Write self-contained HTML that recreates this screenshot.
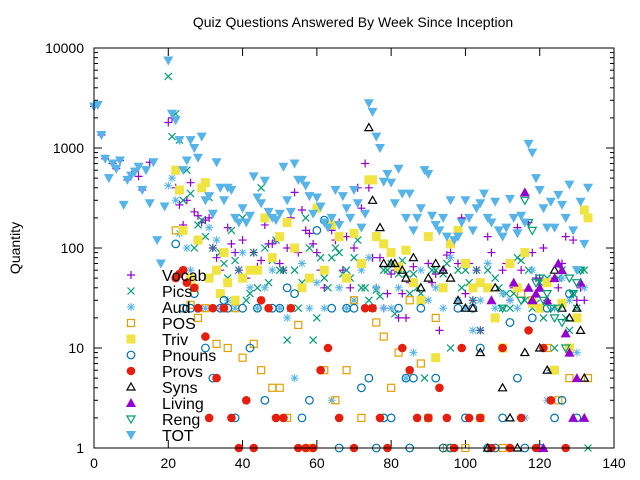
<!DOCTYPE html>
<html><head><meta charset="utf-8"><style>
body{margin:0;background:#fff}
svg{display:block;font-family:"Liberation Sans",sans-serif}
</style></head><body>
<svg id="c" width="640" height="480">
<text x="353" y="27" font-size="14" text-anchor="middle">Quiz Questions Answered By Week Since Inception</text>
<text x="20" y="248" font-size="14" text-anchor="middle" transform="rotate(-90 20 248)">Quantity</text>
<g id="axes"></g>
<g id="marks"></g>
<g id="legend"></g>
<rect x="94" y="48" width="520" height="400" fill="none" stroke="#000" stroke-width="1"/>
</svg>
<script>
const xTicks=[0,20,40,60,80,100,120,140];
const yTicks=[1,10,100,1000,10000];
const seriesNames=["Vocab","Pics","Aud","POS","Triv","Pnouns","Provs","Syns","Living","Reng","TOT"];
const totX=[0,1,2,3,4,5,6,7,8,9,10,11,12,13,14,15,16,17,18,19,20,21,22,23,24,25,26,27,28,29,30,31,32,33,34,35,36,37,38,39,40,41,42,43,44,45,46,47,48,49,50,51,52,53,54,55,56,57,58,59,60,61,62,63,64,65,66,67,68,69,70,71,72,73,74,75,76,77,78,79,80,81,82,83,84,85,86,87,88,89,90,91,92,93,94,95,96,97,98,99,100,101,102,103,104,105,106,107,108,109,110,111,112,113,114,115,116,117,118,119,120,121,122,123,124,125,126,127,128,129,130,131,132,133];
const totY=[2600,2700,1350,780,500,700,620,750,270,480,530,580,650,380,600,280,720,120,70,260,7500,2200,1900,1200,600,750,1200,1000,800,1300,300,330,220,720,400,300,400,380,200,180,250,180,210,520,320,280,470,230,200,190,220,650,300,230,700,480,480,420,330,220,320,260,180,160,200,380,170,330,250,200,380,280,160,220,2800,2300,1300,1000,460,550,450,280,620,350,200,350,150,200,250,600,550,210,170,150,200,130,300,120,130,180,300,200,150,250,280,350,200,180,290,150,130,160,310,200,140,210,180,1100,900,500,380,250,160,290,160,340,270,200,430,150,60,290,110,400];
const vocabX=[0,2,3,5,6,7,9,11,12,13,15,20,21,22,23,24,25,26,27,28,29,30,31,32,33,34,36,37,38,39,40,41,43,44,45,46,47,48,49,50,51,52,53,54,55,56,57,58,59,60,61,62,64,65,66,67,68,69,70,71,72,73,74,75,76,77,78,79,80,81,82,83,84,85,86,89,90,91,92,93,94,95,96,98,99,100,101,102,103,104,106,107,110,111,112,113,114,115,117,118,119,120,121,122,123,124,125,126,127,128,129,130,131,132];
const vocabY=[2600,1350,780,700,620,750,480,580,520,380,720,1800,2000,400,270,170,300,450,230,210,180,190,200,100,80,60,160,110,90,60,120,50,90,65,75,170,110,110,120,70,60,100,200,360,90,240,150,140,110,90,60,40,150,120,180,60,130,40,100,400,250,700,400,80,40,80,25,35,55,60,20,35,20,45,65,30,70,45,55,15,60,85,90,70,200,35,70,30,60,15,130,90,60,70,30,40,160,60,180,90,50,50,100,30,6,50,40,70,130,9,120,30,40,30];
const picsX=[20,21,22,23,24,25,26,27,28,29,30,31,32,33,34,35,36,37,38,39,40,41,42,43,44,45,46,47,48,49,50,51,52,53,54,55,56,57,58,59,60,61,62,63,64,65,66,67,68,69,70,71,72,73,74,75,76,77,78,79,80,81,82,83,84,85,86,87,88,89,91,92,94,95,96,98,99,100,101,102,103,104,106,108,109,110,111,112,113,114,115,116,117,118,119,120,121,122,123,124,125,126,127,128,129,130,131,132,133];
const picsY=[5200,1300,2200,1200,300,600,350,100,170,190,130,320,100,60,90,70,50,150,75,60,200,30,35,90,40,400,100,45,75,120,60,60,12,25,60,25,45,200,100,12,20,80,50,40,80,100,90,55,60,50,80,120,40,40,30,25,38,33,60,60,70,22,55,75,55,35,55,40,35,5,60,60,55,70,10,60,40,60,45,30,60,15,60,50,40,25,35,25,35,80,75,30,60,25,28,45,20,50,6,10,50,60,20,15,35,25,60,60,1];
const audX=[20,21,22,23,25,26,28,30,31,33,34,36,38,40,42,44,46,48,50,52,54,56,58,60,62,64,66,68,70,72,74,76,78,80,82,84,86,88,90,92,94,96,98,100,102,104,106,108,110,112,114,116,118,120,122,124,126,128,130,132];
const audY=[420,500,300,140,100,60,25,25,160,120,25,30,25,90,40,25,40,60,25,20,5,70,25,45,25,3,40,25,30,60,80,40,25,25,40,5,9,60,30,40,25,80,30,25,15,30,70,25,35,30,25,2,60,25,3,25,50,30,9,40];
const posX=[22,26,28,30,33,36,38,40,43,45,48,50,52,55,58,62,65,68,70,72,76,78,80,82,85,88,90,92,95,100,104,110,115,118,122,125,128,133];
const posY=[150,27,20,25,11,10,25,8,11,6,4,4,2,17,1,6,3,6,30,2,18,13,4,9,30,7,2,20,1,1,2,1,35,30,10,3,5,5];
const trivX=[22,23,24,26,27,28,29,30,31,33,34,35,36,38,40,42,44,46,48,50,52,54,56,58,60,62,64,66,68,70,72,74,75,76,78,80,82,84,86,88,90,92,94,96,98,100,102,104,106,108,110,112,114,116,118,120,122,124,126,128,130,132,133];
const trivY=[600,380,150,50,40,120,400,450,50,60,35,90,45,30,50,60,60,200,80,130,180,100,40,50,250,60,170,130,50,140,70,480,480,130,110,90,65,95,45,30,130,8,40,110,150,70,40,45,40,20,10,70,40,90,28,25,45,6,28,10,20,240,200];
const pnounsX=[22,24,26,27,28,30,32,34,35,36,38,40,42,44,46,48,50,52,54,56,58,60,62,64,66,68,70,72,74,76,78,80,82,84,85,86,88,90,92,94,96,98,100,102,104,106,108,110,112,114,116,118,120,122,124,126,128,130];
const pnounsY=[110,25,25,35,25,10,5,25,30,25,2,25,10,25,3,25,25,40,35,2,3,150,190,25,1,25,25,4,5,1,2,2,25,5,1,5,25,2,5,1,1,25,2,25,10,1,1,2,18,5,1,20,1,25,2,3,35,2];
const provsX=[22,23,24,25,27,28,30,31,32,33,35,37,39,41,43,45,47,49,51,53,55,57,59,61,63,66,70,73,75,77,79,83,85,87,90,93,95,97,99,101,104,107,110,112,115,117,119,121,123,127];
const provsY=[50,55,60,45,40,25,13,2,25,5,25,2,1,3,1,30,25,2,2,25,1,1,1,6,10,2,1,25,25,2,1,10,6,2,2,4,2,1,10,2,2,1,10,1,2,15,1,10,3,1];
const synsX=[74,75,77,78,80,81,83,84,86,88,90,92,94,96,98,100,102,104,106,108,110,112,114,116,118,120,122,124,126,128,130,131,132];
const synsY=[1600,300,160,70,70,70,60,50,80,40,50,70,60,50,30,25,25,9,1,40,4,2,1,9,30,10,6,60,25,20,25,15,5];
const livingX=[107,113,116,117,118,119,120,121,122,124,125,126,127,128,129,130,131,132];
const livingY=[30,45,360,40,30,35,40,1,30,50,70,60,14,9,2,5,45,2];
const rengX=[110,115,116,117,118,119,120,121,122,123,124,125,126,127,128,129,130,131];
const rengY=[25,30,300,180,150,45,50,30,35,25,20,25,18,10,50,35,45,60];

const xs=x=>94+x*520/140;
const ys=v=>448-Math.log10(v)*100;
const NS="http://www.w3.org/2000/svg";
const colors={Vocab:"#9400d3",Pics:"#009e73",Aud:"#56b4e9",POS:"#e69f00",Triv:"#f0e442",Pnouns:"#0072b2",Provs:"#e51e10",Syns:"#000",Living:"#9400d3",Reng:"#009e73",TOT:"#56b4e9"};
function marker(g,name,cx,cy){
  const c=colors[name];let el;
  const mk=(t,a)=>{const e=document.createElementNS(NS,t);for(const k in a)e.setAttribute(k,a[k]);return e;};
  if(name==="Vocab") el=mk("path",{d:`M${cx-4},${cy}h8M${cx},${cy-4}v8`,stroke:c,"stroke-width":1.2});
  else if(name==="Pics") el=mk("path",{d:`M${cx-3.5},${cy-3.5}l7,7M${cx-3.5},${cy+3.5}l7,-7`,stroke:c,"stroke-width":1.2});
  else if(name==="Aud") el=mk("path",{d:`M${cx-4},${cy}h8M${cx},${cy-4}v8M${cx-3},${cy-3}l6,6M${cx-3},${cy+3}l6,-6`,stroke:c,"stroke-width":1});
  else if(name==="POS") el=mk("rect",{x:cx-3.5,y:cy-3.5,width:7,height:7,fill:"none",stroke:c,"stroke-width":1.2});
  else if(name==="Triv") el=mk("rect",{x:cx-4.5,y:cy-4.5,width:9,height:9,fill:c});
  else if(name==="Pnouns") el=mk("circle",{cx:cx,cy:cy,r:3.8,fill:"none",stroke:c,"stroke-width":1.2});
  else if(name==="Provs") el=mk("circle",{cx:cx,cy:cy,r:4.3,fill:c});
  else if(name==="Syns") el=mk("path",{d:`M${cx},${cy-4}L${cx+4},${cy+3}L${cx-4},${cy+3}Z`,fill:"none",stroke:c,"stroke-width":1.2});
  else if(name==="Living") el=mk("path",{d:`M${cx},${cy-5}L${cx+5},${cy+4}L${cx-5},${cy+4}Z`,fill:c});
  else if(name==="Reng") el=mk("path",{d:`M${cx},${cy+4}L${cx+4},${cy-3}L${cx-4},${cy-3}Z`,fill:"none",stroke:c,"stroke-width":1.2});
  else el=mk("path",{d:`M${cx},${cy+5}L${cx+5},${cy-4}L${cx-5},${cy-4}Z`,fill:c});
  
  
  g.appendChild(el);
}
const axes=document.getElementById("axes");
function line(x1,y1,x2,y2){const l=document.createElementNS(NS,"line");l.setAttribute("x1",x1);l.setAttribute("y1",y1);l.setAttribute("x2",x2);l.setAttribute("y2",y2);l.setAttribute("stroke","#000");


axes.appendChild(l);}
function text(x,y,s,anchor,nm){const t=document.createElementNS(NS,"text");t.setAttribute("x",x);t.setAttribute("y",y);t.setAttribute("font-size","14");t.setAttribute("text-anchor",anchor);t.textContent=s;


axes.appendChild(t);}
xTicks.forEach(v=>{const x=xs(v);line(x,448,x,440);line(x,48,x,56);text(x,468,String(v),"middle","x-tick-label");});
yTicks.forEach(v=>{const y=ys(v);line(94,y,102,y);line(614,y,606,y);text(84,y+5,String(v),"end","y-tick-label");});
for(let d=0;d<4;d++)for(let m=2;m<10;m++){const y=ys(m*Math.pow(10,d));line(94,y,98,y);line(614,y,610,y);}
const marks=document.getElementById("marks");
const data=[["Vocab",vocabX,vocabY],["Pics",picsX,picsY],["Aud",audX,audY],["POS",posX,posY],["Triv",trivX,trivY],["Pnouns",pnounsX,pnounsY],["Provs",provsX,provsY],["Syns",synsX,synsY],["Living",livingX,livingY],["Reng",rengX,rengY],["TOT",totX,totY]];
data.forEach(([n,X,Y])=>{const g=document.createElementNS(NS,"g");


marks.appendChild(g);X.forEach((x,i)=>marker(g,n,xs(x),ys(Y[i])));});
const lg=document.getElementById("legend");
seriesNames.forEach((n,i)=>{const y=275+i*16;marker(lg,n,131,y);const t=document.createElementNS(NS,"text");t.setAttribute("x",162);t.setAttribute("y",y+6);t.setAttribute("font-size","16");t.textContent=n;


lg.appendChild(t);});
</script>
</body></html>
